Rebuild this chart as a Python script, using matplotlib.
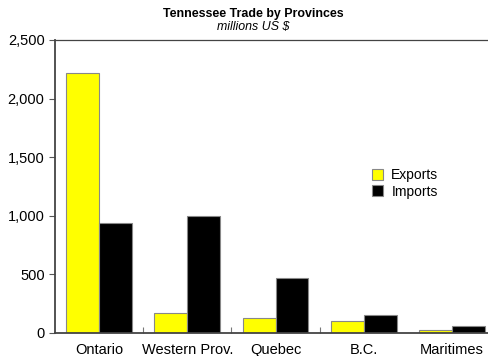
import numpy as np
import matplotlib
matplotlib.use("Agg")
import matplotlib.pyplot as plt

plt.rcParams['font.family'] = ['Liberation Sans', 'DejaVu Sans']

provinces = ["Ontario", "Western Prov.", "Quebec", "B.C.", "Maritimes"]
exports = [2220, 170, 130, 105, 28]
imports = [935, 1000, 470, 150, 62]
y_ticks = [0, 500, 1000, 1500, 2000, 2500]
y_labels = ["0", "500", "1,000", "1,500", "2,000", "2,500"]

fig = plt.figure(figsize=(4.88, 3.56), dpi=100)
ax = fig.add_axes([55 / 488, 23 / 356, 441 / 488, 293 / 356])

x = np.arange(len(provinces))
w = 0.374
ax.bar(x - w / 2, exports, w, color="#FFFF00", edgecolor="#888888", linewidth=0.8, label="Exports")
ax.bar(x + w / 2, imports, w, color="#000000", edgecolor="#888888", linewidth=0.8, label="Imports")

ax.set_xlim(-0.5, len(provinces) - 0.5)
ax.set_ylim(0, 2500)
ax.set_yticks(y_ticks)
ax.set_yticklabels(y_labels, fontsize=10.5)
ax.set_xticks(x)
ax.set_xticklabels(provinces, fontsize=10.5)
ax.set_xticks([0.5, 1.5, 2.5], minor=True)
ax.tick_params(axis="x", which="major", length=0, pad=7)
ax.tick_params(axis="x", which="minor", direction="in", length=4.5, width=0.8, color="#777777")
ax.tick_params(axis="y", direction="out", length=4.5, width=0.8, color="#555555", pad=3)

for side in ["left", "bottom"]:
    ax.spines[side].set_linewidth(1.3)
    ax.spines[side].set_color("#444444")
ax.spines["top"].set_linewidth(0.9)
ax.spines["top"].set_color("#444444")
ax.spines["right"].set_visible(False)

leg = ax.legend(loc="upper left", bbox_to_anchor=(0.706, 0.582), frameon=False, fontsize=10,
                handlelength=0.8, handleheight=0.8, handletextpad=0.6, labelspacing=0.18,
                borderaxespad=0)

fig.text(253 / 488, 1 - 14 / 356, "Tennessee Trade by Provinces", ha="center", va="center",
         fontsize=8.9, fontweight="bold")
fig.text(253 / 488, 1 - 27 / 356, "millions US $", ha="center", va="center",
         fontsize=8.9, fontstyle="italic")

fig.savefig("out.png", dpi=100)
